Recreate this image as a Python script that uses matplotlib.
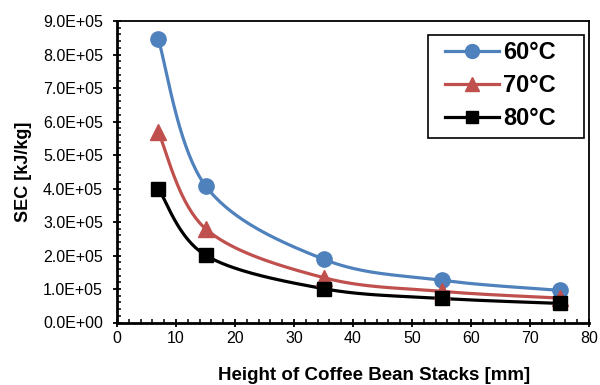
import numpy as np
import matplotlib
matplotlib.use("Agg")
from matplotlib import pyplot as plt
from matplotlib.ticker import MultipleLocator, FuncFormatter
from matplotlib.patches import Rectangle

plt.rcParams['font.family'] = ['Liberation Sans', 'DejaVu Sans']

height = [7, 15, 35, 55, 75]
sec_60 = [845000, 408000, 189000, 126000, 96000]
sec_70 = [568000, 280000, 134000, 93000, 73000]
sec_80 = [400000, 201000, 101000, 72000, 57000]


def smooth(x, y, n=40):
    # Excel-like smoothed line: Catmull-Rom segments as cubic Bezier
    x = np.asarray(x, float)
    y = np.asarray(y, float)
    px = np.concatenate([[x[0]], x, [x[-1]]])
    py = np.concatenate([[y[0]], y, [y[-1]]])
    xs, ys = [], []
    t = np.linspace(0, 1, n)
    for i in range(1, len(px) - 2):
        p0 = np.array([px[i], py[i]])
        p3 = np.array([px[i + 1], py[i + 1]])
        p1 = p0 + (np.array([px[i + 1], py[i + 1]]) - np.array([px[i - 1], py[i - 1]])) / 6
        p2 = p3 - (np.array([px[i + 2], py[i + 2]]) - np.array([px[i], py[i]])) / 6
        b = ((1 - t) ** 3)[:, None] * p0 + (3 * (1 - t) ** 2 * t)[:, None] * p1 \
            + (3 * (1 - t) * t ** 2)[:, None] * p2 + (t ** 3)[:, None] * p3
        xs.extend(b[:, 0])
        ys.extend(b[:, 1])
    return xs, ys


fig = plt.figure(figsize=(6, 3.85), dpi=100)
ax = fig.add_axes([117 / 600, 1 - 322.5 / 385, (589 - 117) / 600, (322.5 - 21) / 385])

series = [(sec_60, "#4F81BD", "o", "60°C", 11),
          (sec_70, "#C0504D", "^", "70°C", 11),
          (sec_80, "black", "s", "80°C", 10)]
for vals, col, mk, lab, ms in series:
    sx, sy = smooth(height, vals)
    ax.plot(sx, sy, color=col, lw=2.3, zorder=2)
    ax.plot(height, vals, linestyle="none", marker=mk, color=col, ms=ms, zorder=3)
    ax.plot([], [], color=col, lw=2.3, marker=mk, ms=ms - 1, label=lab)

ax.set_xlim(0, 80)
ax.set_ylim(0, 900000)
ax.xaxis.set_major_locator(MultipleLocator(10))
ax.xaxis.set_minor_locator(MultipleLocator(2))
ax.yaxis.set_major_locator(MultipleLocator(100000))
ax.yaxis.set_minor_locator(MultipleLocator(20000))
ax.yaxis.set_major_formatter(FuncFormatter(lambda v, p: "{:.1E}".format(v)))

ax.tick_params(which="major", direction="inout", length=6, width=1.3, labelsize=11.5, pad=3)
ax.tick_params(axis="y", which="major", pad=7)
ax.tick_params(which="minor", direction="in", length=3, width=1.1)
for s in ["left", "bottom"]:
    ax.spines[s].set_linewidth(2)
for s in ["top", "right"]:
    ax.spines[s].set_linewidth(1.3)

ax.set_xlabel("Height of Coffee Bean Stacks [mm]", fontsize=13.5, fontweight="bold")
ax.xaxis.set_label_coords(0.545, -0.147)
ax.set_ylabel("SEC [kJ/kg]", fontsize=13, fontweight="bold")
ax.yaxis.set_label_coords(-0.18, 0.5)

# legend box drawn separately to get Excel-like uneven padding
ax.add_patch(Rectangle((0.659, 0.612), 0.33, 0.342, transform=ax.transAxes,
                       facecolor="white", edgecolor="black", lw=1.2, zorder=4))
leg = ax.legend(loc="upper left", bbox_to_anchor=(0.682, 0.954), prop={"size": 17, "weight": "bold"},
                frameon=False, handlelength=2.3, handletextpad=0.15, borderpad=0.26,
                labelspacing=0.42, borderaxespad=0)
leg.set_zorder(5)

fig.savefig("out.png", dpi=100)
